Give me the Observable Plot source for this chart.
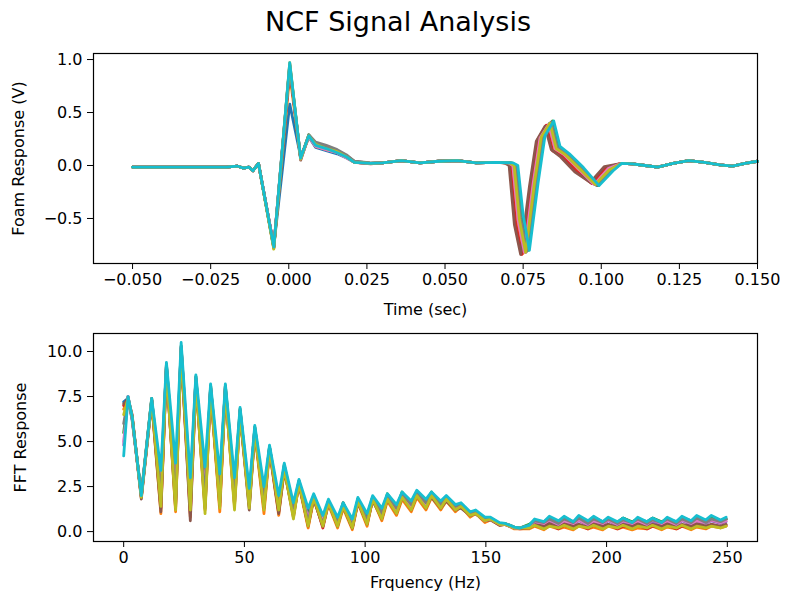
<!DOCTYPE html>
<html>
<head>
<meta charset="utf-8">
<script src="https://cdn.jsdelivr.net/npm/d3@7"></script>
<script src="https://cdn.jsdelivr.net/npm/@observablehq/plot@0.6"></script>
<style>
  html, body { margin: 0; padding: 0; background: #fff; }
  #wrap { position: relative; width: 786px; height: 596px; font-family: "DejaVu Sans", sans-serif; color: #000; }
  #title { position: absolute; left: 0; top: 5px; width: 796px; text-align: center; font-size: 27px; line-height: 34px; }
  #top { position: absolute; left: 0; top: 40px; }
  #bot { position: absolute; left: 0; top: 320px; }
</style>
</head>
<body>
<div id="wrap">
  <div id="title">NCF Signal Analysis</div>
  <div id="top"></div>
  <div id="bot"></div>
</div>
<script>
// ---------- shared ----------
const seriesNames = ["run 1","run 2","run 3","run 4","run 5","run 6","run 7","run 8","run 9","run 10"];
const tab10 = ["#1f77b4","#ff7f0e","#2ca02c","#d62728","#9467bd","#8c564b","#e377c2","#7f7f7f","#bcbd22","#17becf"];

// ---------- time domain (top panel) ----------
const timeTicks = [-0.05, -0.025, 0, 0.025, 0.05, 0.075, 0.1, 0.125, 0.15];
const voltTicks = [-0.5, 0, 0.5, 1.0];

// lead-in (common to all runs)
const preT = [-0.0500, -0.0300, -0.0200, -0.0165, -0.0145, -0.0128, -0.0115, -0.0097];
const preV = [-0.015, -0.015, -0.015, -0.005, -0.025, -0.015, -0.05, 0.02];

// first pulse (shared times, per-run values)
const p1T = [-0.0048, 0.0003, 0.0038, 0.0064, 0.0086, 0.0120, 0.0155, 0.0185, 0.0210, 0.0262];
const p1V = [
  [-0.76, 0.58, 0.08, 0.27, 0.17, 0.14, 0.11, 0.07, 0.03, 0.02],
  [-0.78, 0.86, 0.07, 0.28, 0.18, 0.15, 0.12, 0.08, 0.03, 0.02],
  [-0.77, 0.95, 0.06, 0.29, 0.20, 0.17, 0.13, 0.09, 0.035, 0.02],
  [-0.76, 0.92, 0.07, 0.27, 0.19, 0.16, 0.12, 0.08, 0.03, 0.015],
  [-0.77, 0.94, 0.06, 0.28, 0.19, 0.15, 0.12, 0.08, 0.03, 0.02],
  [-0.78, 0.93, 0.05, 0.28, 0.21, 0.18, 0.14, 0.09, 0.04, 0.02],
  [-0.76, 0.96, 0.06, 0.27, 0.18, 0.15, 0.12, 0.07, 0.03, 0.02],
  [-0.77, 0.95, 0.07, 0.29, 0.22, 0.19, 0.15, 0.10, 0.04, 0.025],
  [-0.79, 0.97, 0.06, 0.28, 0.20, 0.16, 0.13, 0.08, 0.03, 0.02],
  [-0.77, 0.97, 0.07, 0.28, 0.19, 0.16, 0.12, 0.08, 0.03, 0.02]
];

// quiet stretch between pulses (common)
const midT = [0.030, 0.036, 0.042, 0.048, 0.054, 0.060, 0.066];
const midV = [0.025, 0.045, 0.025, 0.04, 0.045, 0.025, 0.03];

// second (reflected) pulse: per-run times and values
const p2T = [
  [0.0705, 0.0720, 0.0737, 0.0757, 0.0785, 0.0807, 0.0835, 0.0855, 0.0885, 0.0930, 0.0980, 0.1025],
  [0.0698, 0.0713, 0.0730, 0.0750, 0.0778, 0.0800, 0.0828, 0.0848, 0.0878, 0.0923, 0.0973, 0.1018],
  [0.0714, 0.0729, 0.0746, 0.0766, 0.0794, 0.0816, 0.0844, 0.0864, 0.0894, 0.0939, 0.0989, 0.1034],
  [0.0694, 0.0709, 0.0726, 0.0746, 0.0774, 0.0796, 0.0824, 0.0844, 0.0874, 0.0919, 0.0969, 0.1014],
  [0.0707, 0.0722, 0.0739, 0.0759, 0.0787, 0.0809, 0.0837, 0.0857, 0.0887, 0.0932, 0.0982, 0.1027],
  [0.0690, 0.0705, 0.0722, 0.0742, 0.0770, 0.0792, 0.0820, 0.0840, 0.0870, 0.0915, 0.0965, 0.1010],
  [0.0702, 0.0717, 0.0734, 0.0754, 0.0782, 0.0804, 0.0832, 0.0852, 0.0882, 0.0927, 0.0977, 0.1022],
  [0.0710, 0.0725, 0.0742, 0.0762, 0.0790, 0.0812, 0.0840, 0.0860, 0.0890, 0.0935, 0.0985, 0.1030],
  [0.0706, 0.0721, 0.0738, 0.0758, 0.0786, 0.0808, 0.0836, 0.0856, 0.0886, 0.0931, 0.0981, 0.1026],
  [0.0718, 0.0733, 0.0750, 0.0770, 0.0798, 0.0820, 0.0848, 0.0868, 0.0898, 0.0943, 0.0993, 0.1038]
];
const p2V = [
  [0.025, 0.0, -0.52, -0.81, -0.16, 0.28, 0.40, 0.16, 0.10, -0.03, -0.18, -0.04],
  [0.025, 0.0, -0.54, -0.83, -0.18, 0.25, 0.38, 0.15, 0.09, -0.04, -0.17, -0.02],
  [0.025, 0.0, -0.48, -0.80, -0.17, 0.27, 0.42, 0.18, 0.11, -0.02, -0.19, -0.05],
  [0.025, 0.0, -0.55, -0.84, -0.19, 0.24, 0.38, 0.14, 0.09, -0.05, -0.17, -0.02],
  [0.025, 0.0, -0.50, -0.82, -0.17, 0.27, 0.40, 0.16, 0.10, -0.03, -0.18, -0.04],
  [0.025, 0.0, -0.56, -0.84, -0.20, 0.23, 0.37, 0.15, 0.08, -0.06, -0.16, -0.01],
  [0.025, 0.0, -0.52, -0.82, -0.17, 0.26, 0.39, 0.16, 0.10, -0.03, -0.18, -0.03],
  [0.025, 0.0, -0.50, -0.81, -0.17, 0.27, 0.41, 0.17, 0.11, -0.02, -0.19, -0.04],
  [0.025, 0.0, -0.51, -0.82, -0.17, 0.27, 0.40, 0.16, 0.10, -0.03, -0.18, -0.04],
  [0.025, 0.0, -0.47, -0.80, -0.16, 0.28, 0.42, 0.18, 0.11, -0.02, -0.19, -0.05]
];

// ring-down tail (common)
const tailT = [0.1065, 0.1100, 0.1140, 0.1180, 0.1230, 0.1280, 0.1330, 0.1380, 0.1420, 0.1460, 0.1500];
const tailV = [0.02, 0.015, 0.0, -0.015, 0.02, 0.045, 0.03, 0.005, -0.005, 0.02, 0.04];

// ---------- spectrum (bottom panel) ----------
const freqTicks = [0, 50, 100, 150, 200, 250];
const fftTicks = [0, 2.5, 5, 7.5, 10];
const fq = [0, 1.8, 3.5, 7.3, 11.6, 15.4, 17.7, 21.5, 23.8, 27.6, 29.9, 33.7, 36.0, 39.8, 42.1, 45.9, 48.2, 52.0, 54.3, 58.1, 60.4, 64.2, 66.5, 70.3, 72.6, 76.4, 78.7, 82.5, 84.8, 88.6, 90.9, 94.7, 97.0, 100.8, 103.1, 106.9, 109.2, 113.0, 115.3, 119.1, 121.4, 125.2, 127.5, 131.3, 133.6, 137.4, 139.7, 143.5, 145.8, 149.6, 151.9, 155.7, 158.0, 161.8, 164.1, 167.9, 170.2, 174.0, 176.3, 180.1, 182.4, 186.2, 188.5, 192.3, 194.6, 198.4, 200.7, 204.5, 206.8, 210.6, 212.9, 216.7, 219.0, 222.8, 225.1, 228.9, 231.2, 235.0, 237.3, 241.1, 243.4, 247.2, 249.5];
const fft0 = [7.2, 7.4, 6.2, 2.0, 7.3, 2.6, 9.2, 2.9, 10.2, 2.2, 8.5, 2.5, 8.0, 2.6, 8.0, 2.1, 6.7, 2.0, 5.7, 1.9, 4.7, 1.6, 3.6, 1.4, 2.8, 1.0, 2.0, 0.7, 1.7, 0.6, 1.5, 0.5, 1.8, 0.9, 1.9, 1.2, 2.0, 1.4, 2.1, 1.6, 2.2, 1.7, 2.1, 1.6, 1.9, 1.4, 1.5, 1.0, 1.1, 0.7, 0.75, 0.45, 0.4, 0.2, 0.2, 0.35, 0.6, 0.55, 0.75, 0.5, 0.8, 0.55, 0.75, 0.5, 0.8, 0.55, 0.7, 0.5, 0.75, 0.5, 0.7, 0.55, 0.75, 0.5, 0.7, 0.55, 0.8, 0.6, 0.75, 0.55, 0.8, 0.6, 0.7];
const fft1 = [6.8, 7.3, 6.4, 1.9, 7.2, 1.0, 9.1, 1.1, 10.0, 0.8, 8.3, 1.2, 7.8, 1.1, 7.8, 1.4, 6.5, 1.5, 5.5, 1.0, 4.5, 0.9, 3.4, 1.0, 2.6, 0.2, 1.8, 0.3, 1.5, 0.2, 1.3, 0.1, 1.6, 0.3, 1.8, 0.6, 1.7, 0.9, 1.8, 1.1, 1.9, 1.2, 1.9, 1.2, 1.7, 1.1, 1.4, 0.8, 1.0, 0.5, 0.65, 0.35, 0.4, 0.15, 0.15, 0.15, 0.3, 0.1, 0.3, 0.15, 0.25, 0.1, 0.3, 0.15, 0.25, 0.1, 0.3, 0.15, 0.25, 0.1, 0.2, 0.15, 0.3, 0.1, 0.25, 0.15, 0.3, 0.1, 0.25, 0.15, 0.3, 0.2, 0.3];
const fft2 = [5.5, 7.5, 6.3, 2.1, 7.4, 2.2, 9.3, 2.4, 10.3, 2.0, 8.6, 2.2, 8.1, 2.3, 8.1, 2.5, 6.8, 1.8, 5.8, 2.0, 4.7, 1.5, 3.7, 1.2, 2.8, 0.8, 2.0, 0.6, 1.7, 0.5, 1.6, 0.4, 1.8, 0.7, 1.9, 1.0, 2.1, 1.3, 2.2, 1.5, 2.2, 1.6, 2.2, 1.5, 1.9, 1.3, 1.5, 1.0, 1.1, 0.7, 0.75, 0.45, 0.45, 0.25, 0.2, 0.4, 0.6, 0.5, 0.75, 0.55, 0.8, 0.5, 0.75, 0.55, 0.8, 0.5, 0.7, 0.5, 0.75, 0.55, 0.7, 0.5, 0.75, 0.55, 0.7, 0.5, 0.75, 0.55, 0.8, 0.5, 0.8, 0.55, 0.7];
const fft3 = [7.0, 7.4, 6.5, 1.9, 7.3, 1.3, 9.0, 1.5, 10.1, 1.0, 8.4, 1.5, 7.9, 1.4, 7.9, 1.8, 6.6, 1.4, 5.6, 1.3, 4.6, 1.1, 3.5, 0.8, 2.7, 0.3, 1.9, 0.2, 1.6, 0.4, 1.4, 0.2, 1.7, 0.4, 1.8, 0.7, 1.8, 1.0, 1.9, 1.2, 2.0, 1.3, 2.0, 1.3, 1.8, 1.2, 1.4, 0.9, 1.0, 0.6, 0.7, 0.4, 0.4, 0.2, 0.15, 0.2, 0.35, 0.2, 0.4, 0.15, 0.35, 0.2, 0.4, 0.15, 0.35, 0.2, 0.4, 0.15, 0.3, 0.2, 0.35, 0.15, 0.3, 0.2, 0.35, 0.15, 0.3, 0.2, 0.35, 0.2, 0.4, 0.25, 0.35];
const fft4 = [4.8, 7.5, 6.3, 2.0, 7.3, 1.8, 9.2, 2.0, 10.2, 1.6, 8.5, 1.9, 8.0, 2.0, 8.0, 1.9, 6.7, 1.7, 5.7, 1.6, 4.6, 1.3, 3.6, 1.1, 2.7, 0.6, 1.9, 0.5, 1.6, 0.4, 1.5, 0.3, 1.7, 0.6, 1.9, 0.9, 1.9, 1.2, 2.0, 1.4, 2.1, 1.5, 2.0, 1.4, 1.8, 1.3, 1.5, 0.9, 1.0, 0.6, 0.7, 0.4, 0.4, 0.2, 0.2, 0.3, 0.5, 0.4, 0.6, 0.35, 0.55, 0.4, 0.6, 0.35, 0.55, 0.4, 0.6, 0.35, 0.5, 0.4, 0.55, 0.35, 0.5, 0.4, 0.55, 0.35, 0.6, 0.4, 0.55, 0.45, 0.6, 0.45, 0.55];
const fft5 = [7.1, 7.3, 6.4, 1.8, 7.2, 1.1, 9.0, 1.3, 10.0, 0.6, 8.3, 1.3, 7.8, 1.6, 7.8, 1.5, 6.5, 1.2, 5.5, 1.5, 4.5, 1.0, 3.4, 0.9, 2.6, 0.4, 1.8, 0.3, 1.6, 0.3, 1.4, 0.2, 1.6, 0.5, 1.7, 0.8, 1.8, 1.1, 1.9, 1.3, 2.0, 1.4, 1.9, 1.3, 1.7, 1.2, 1.3, 0.9, 1.0, 0.6, 0.65, 0.35, 0.4, 0.2, 0.2, 0.25, 0.4, 0.3, 0.45, 0.25, 0.45, 0.3, 0.4, 0.25, 0.45, 0.3, 0.4, 0.25, 0.4, 0.3, 0.45, 0.25, 0.4, 0.3, 0.45, 0.25, 0.4, 0.3, 0.45, 0.3, 0.4, 0.3, 0.4];
const fft6 = [5.0, 7.5, 6.2, 2.0, 7.3, 3.0, 9.2, 2.0, 10.2, 2.6, 8.5, 2.1, 8.0, 2.8, 8.0, 1.6, 6.7, 2.1, 5.7, 1.7, 4.6, 1.8, 3.6, 1.2, 2.8, 0.7, 1.9, 0.6, 1.7, 0.5, 1.5, 0.4, 1.7, 0.6, 1.9, 1.0, 2.0, 1.2, 2.1, 1.4, 2.1, 1.5, 2.1, 1.4, 1.8, 1.3, 1.5, 1.0, 1.1, 0.6, 0.7, 0.4, 0.4, 0.2, 0.2, 0.3, 0.55, 0.45, 0.65, 0.4, 0.6, 0.45, 0.65, 0.4, 0.6, 0.45, 0.65, 0.4, 0.6, 0.45, 0.6, 0.4, 0.65, 0.45, 0.6, 0.4, 0.65, 0.45, 0.6, 0.5, 0.65, 0.5, 0.6];
const fft7 = [6.0, 7.4, 6.3, 2.0, 7.4, 2.0, 9.3, 1.7, 10.3, 1.4, 8.6, 1.8, 8.1, 1.9, 8.1, 2.2, 6.8, 1.6, 5.8, 1.8, 4.7, 1.4, 3.7, 1.3, 2.8, 0.5, 2.0, 0.4, 1.7, 0.6, 1.6, 0.3, 1.8, 0.6, 1.9, 1.0, 2.0, 1.3, 2.1, 1.5, 2.2, 1.6, 2.1, 1.5, 1.9, 1.4, 1.5, 1.0, 1.1, 0.7, 0.75, 0.45, 0.45, 0.25, 0.2, 0.35, 0.6, 0.5, 0.7, 0.45, 0.7, 0.5, 0.75, 0.45, 0.7, 0.5, 0.7, 0.45, 0.65, 0.5, 0.7, 0.45, 0.65, 0.5, 0.7, 0.45, 0.7, 0.5, 0.75, 0.5, 0.7, 0.55, 0.7];
const fft8 = [6.5, 7.4, 6.4, 1.9, 7.3, 1.4, 9.1, 1.2, 10.1, 1.2, 8.4, 1.0, 7.9, 1.3, 7.9, 1.2, 6.6, 1.3, 5.6, 1.2, 4.6, 1.2, 3.5, 0.7, 2.7, 0.3, 1.9, 0.3, 1.6, 0.3, 1.4, 0.2, 1.7, 0.4, 1.8, 0.7, 1.8, 1.0, 1.9, 1.2, 2.0, 1.3, 2.0, 1.3, 1.8, 1.2, 1.4, 0.9, 1.0, 0.6, 0.7, 0.4, 0.4, 0.2, 0.2, 0.2, 0.35, 0.15, 0.3, 0.2, 0.35, 0.15, 0.3, 0.2, 0.35, 0.15, 0.3, 0.2, 0.35, 0.15, 0.3, 0.2, 0.35, 0.15, 0.3, 0.2, 0.35, 0.15, 0.3, 0.2, 0.3, 0.2, 0.3];
const fft9 = [4.2, 7.5, 6.4, 2.0, 7.4, 3.4, 9.4, 3.8, 10.5, 3.0, 8.7, 3.6, 8.2, 3.2, 8.2, 3.0, 6.9, 2.4, 5.9, 2.5, 4.8, 2.0, 3.8, 1.6, 2.9, 1.3, 2.1, 0.9, 1.8, 0.8, 1.6, 0.7, 1.9, 1.0, 2.0, 1.3, 2.1, 1.5, 2.2, 1.7, 2.3, 1.8, 2.2, 1.7, 2.0, 1.5, 1.6, 1.1, 1.2, 0.8, 0.8, 0.5, 0.45, 0.25, 0.2, 0.35, 0.7, 0.55, 0.85, 0.6, 0.85, 0.55, 0.9, 0.6, 0.85, 0.55, 0.8, 0.55, 0.75, 0.5, 0.8, 0.55, 0.75, 0.5, 0.8, 0.55, 0.85, 0.6, 0.9, 0.65, 0.9, 0.65, 0.8];
const fftRuns = [fft0, fft1, fft2, fft3, fft4, fft5, fft6, fft7, fft8, fft9];

// ---------- build tables ----------
const timeRows = [];
seriesNames.forEach((name, i) => {
  const push = (ts, vs) => ts.forEach((t, k) => timeRows.push({run: name, t, v: vs[k]}));
  push(preT, preV);
  push(p1T, p1V[i]);
  push(midT, midV);
  push(p2T[i], p2V[i]);
  push(tailT, tailV);
});
const fftRows = [];
seriesNames.forEach((name, i) => {
  const vals = fftRuns[i];
  const n = Math.min(vals.length, fq.length);
  for (let k = 0; k < n; ++k) fftRows.push({run: name, f: fq[k], a: vals[k]});
});

const baseStyle = {fontFamily: "DejaVu Sans, sans-serif", fontSize: "16px", color: "#000", background: "#fff", overflow: "visible"};

const topPlot = Plot.plot({
  width: 786, height: 280,
  marginLeft: 93, marginRight: 29, marginTop: 13, marginBottom: 57,
  style: baseStyle,
  x: {domain: [-0.0625, 0.15]},
  y: {domain: [-0.925, 1.057]},
  marks: [
    ...seriesNames.map((name, i) => Plot.line(timeRows.filter(d => d.run === name), {x: "t", y: "v", stroke: tab10[i], strokeWidth: 2.8, strokeLinejoin: "round"})),
    Plot.frame({stroke: "#000", strokeWidth: 1.2}),
    Plot.axisX({ticks: timeTicks, tickFormat: d3.format(".3f"), tickSize: 6, tickPadding: 4, label: "Time (sec)", labelAnchor: "center", labelArrow: "none", labelOffset: 51}),
    Plot.axisY({ticks: voltTicks, tickFormat: d3.format(".1f"), tickSize: 6, tickPadding: 5, label: "Foam Response (V)", labelAnchor: "center", labelArrow: "none", labelOffset: 81})
  ]
});
document.getElementById("top").appendChild(topPlot);

const botPlot = Plot.plot({
  width: 786, height: 276,
  marginLeft: 93, marginRight: 29, marginTop: 13, marginBottom: 55,
  style: baseStyle,
  x: {domain: [-12.5, 262.5]},
  y: {domain: [-0.55, 11.0]},
  marks: [
    ...seriesNames.map((name, i) => Plot.line(fftRows.filter(d => d.run === name), {x: "f", y: "a", stroke: tab10[i], strokeWidth: 2.8, strokeLinejoin: "round"})),
    Plot.frame({stroke: "#000", strokeWidth: 1.2}),
    Plot.axisX({ticks: freqTicks, tickFormat: d3.format("d"), tickSize: 6, tickPadding: 4, label: "Frquency (Hz)", labelAnchor: "center", labelArrow: "none", labelOffset: 46}),
    Plot.axisY({ticks: fftTicks, tickFormat: d3.format(".1f"), tickSize: 6, tickPadding: 5, label: "FFT Response", labelAnchor: "center", labelArrow: "none", labelOffset: 79})
  ]
});
document.getElementById("bot").appendChild(botPlot);
</script>
</body>
</html>
